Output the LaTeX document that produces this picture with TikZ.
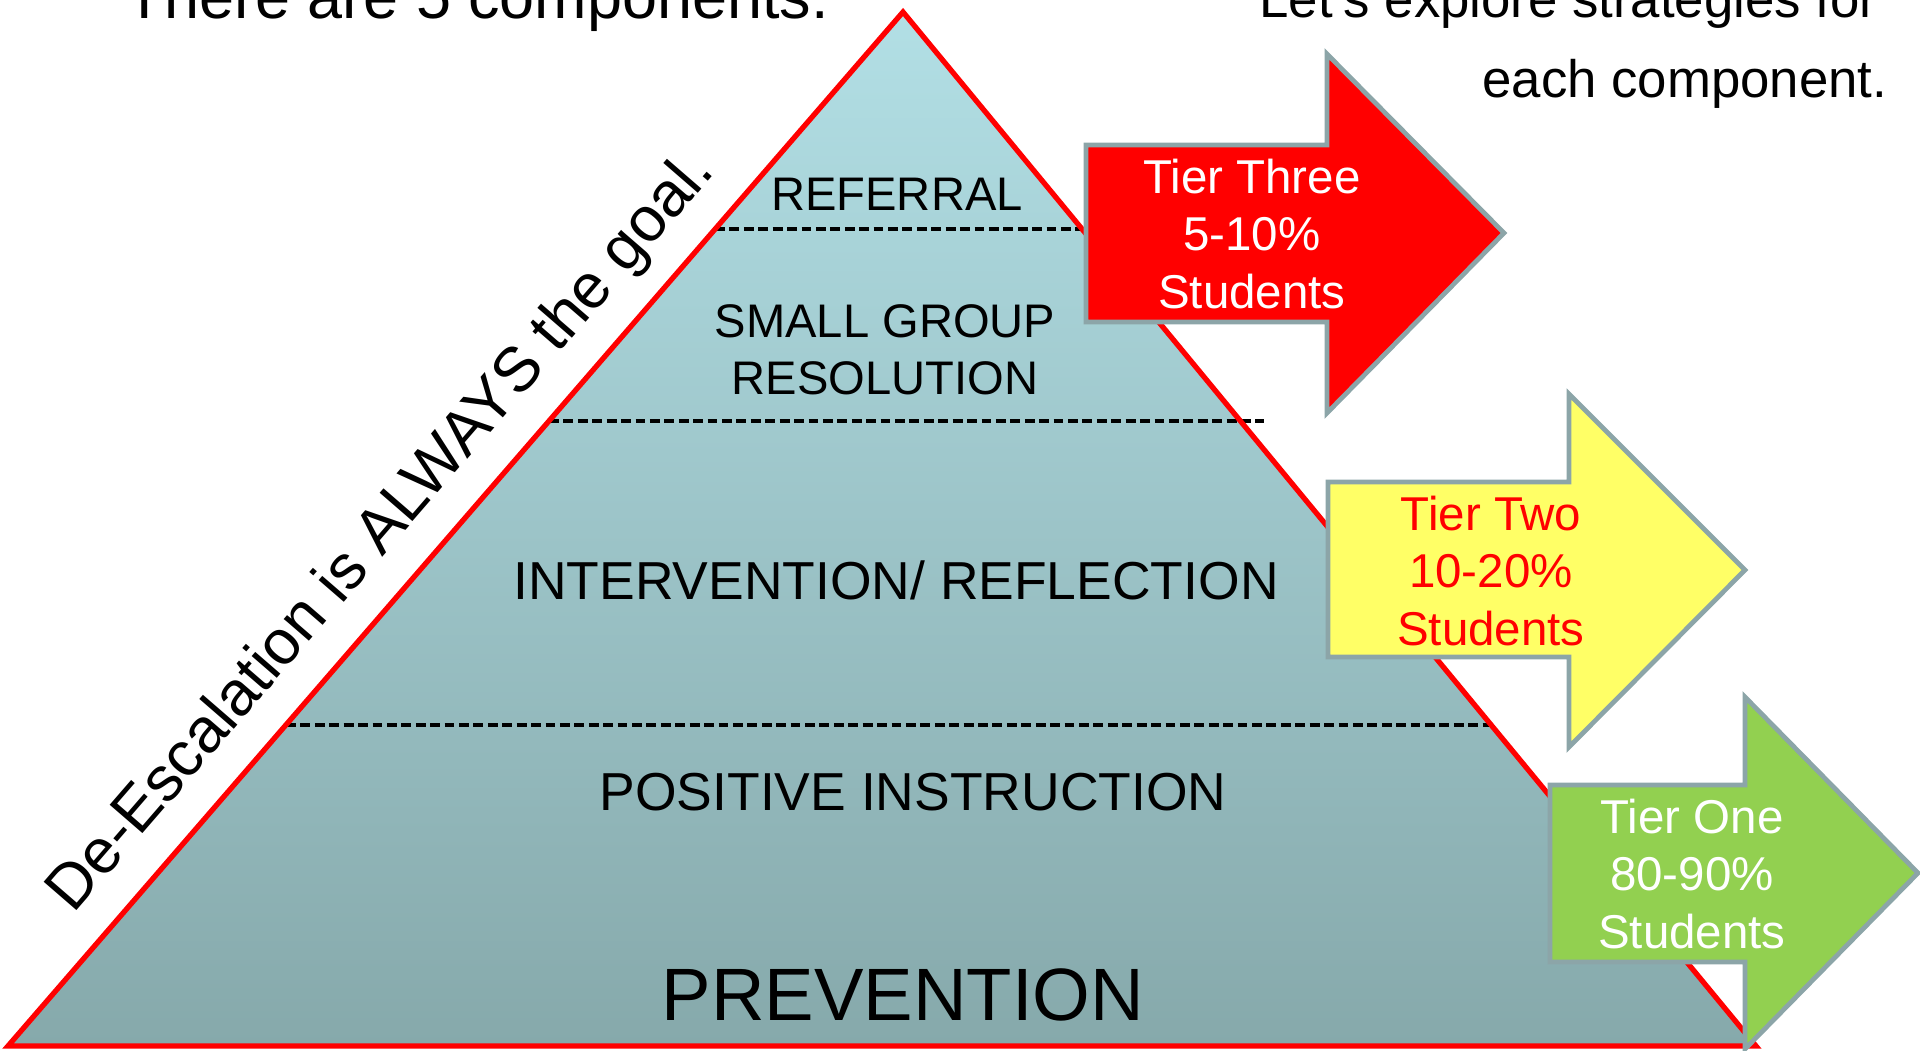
\documentclass[tikz,border=0pt]{standalone}
\usepackage{fontspec}
\setmainfont{Liberation Sans}

\definecolor{pyrtop}{HTML}{B2DFE5}
\definecolor{pyrbot}{HTML}{86A9AB}
\definecolor{tiergray}{HTML}{8CA5A8}
\definecolor{tierred}{HTML}{FF0000}
\definecolor{tieryellow}{HTML}{FFFF66}
\definecolor{tiergreen}{HTML}{92D050}

\begin{document}
\begin{tikzpicture}[x=0.01cm, y=0.01cm]
\tikzstyle{every node}+=[inner sep=0pt]
\tikzstyle{tier}=[draw=tiergray, line width=1.35pt, line join=miter]
\tikzstyle{divider}=[black, line width=1.35pt, dash pattern=on 2.8pt off 1.3pt]
\tikzstyle{tiertext}=[font=\fontsize{13.5}{16.3}\selectfont, align=center]
\useasboundingbox (0,0) rectangle (1920,-1051);

% pyramid
\coordinate (left) at (8,-1046);
\coordinate (top) at (903,-12);
\coordinate (right) at (1756,-1046);
\shade [top color=pyrtop, bottom color=pyrbot] (left) -- (top) -- (right) -- cycle;

% level dividers
\draw [divider] (715,-229) -- (1086,-229);
\draw [divider] (549,-421) -- (1264,-421);
\draw [divider] (286,-725) -- (1490,-725);

\draw [red, line width=1.5pt, line join=miter] (left) -- (top) -- (right) -- cycle;

% level names
\node [anchor=base, font=\fontsize{13.4}{16}\selectfont] (referral) at (897,-210) {REFERRAL};
\node [anchor=center, align=center, font=\fontsize{13.4}{16.2}\selectfont] (smallgroup) at (885,-350) {SMALL GROUP\\RESOLUTION};
\node [anchor=base, font=\fontsize{15.2}{17}\selectfont] (intervention) at (896,-599) {INTERVENTION/ REFLECTION};
\node [anchor=base, font=\fontsize{15.2}{17}\selectfont] (positive) at (913,-810) {POSITIVE INSTRUCTION};
\node [anchor=base, font=\fontsize{21.1}{24}\selectfont] (prevention) at (903,-1020) {PREVENTION};

\path (left) -- (top) node [pos=0.463, sloped, above=6.5pt, font=\fontsize{17.9}{20}\selectfont] (goal) {De-Escalation is ALWAYS the goal.};

% tier arrows
\draw [tier, fill=tierred] (1086,-145) -- (1327,-145) -- (1327,-54) -- (1504,-233) -- (1327,-413) -- (1327,-322) -- (1086,-322) -- cycle;
\draw [tier, fill=tieryellow] (1328,-482) -- (1569,-482) -- (1569,-394) -- (1745,-570) -- (1569,-747) -- (1569,-657) -- (1328,-657) -- cycle;
\draw [tier, fill=tiergreen] (1550,-785) -- (1745,-785) -- (1745,-697) -- (1918,-873) -- (1745,-1049) -- (1745,-962) -- (1550,-962) -- cycle;

\node [tiertext, white] (tier3) at (1252,-234) {Tier Three\\5-10\%\\Students};
\node [tiertext, tierred] (tier2) at (1491,-571) {Tier Two\\10-20\%\\Students};
\node [tiertext, white] (tier1) at (1692,-874) {Tier One\\80-90\%\\Students};

% headings
\node [anchor=base west, font=\fontsize{17.9}{20}\selectfont] (title) at (125,-18) {There are 5 components.};
\node [anchor=base east, font=\fontsize{15}{18}\selectfont] (explore) at (1878,-17) {Let's explore strategies for};
\node [anchor=base east, font=\fontsize{15}{18}\selectfont] (each) at (1888,-97) {each component.};
\end{tikzpicture}
\end{document}
